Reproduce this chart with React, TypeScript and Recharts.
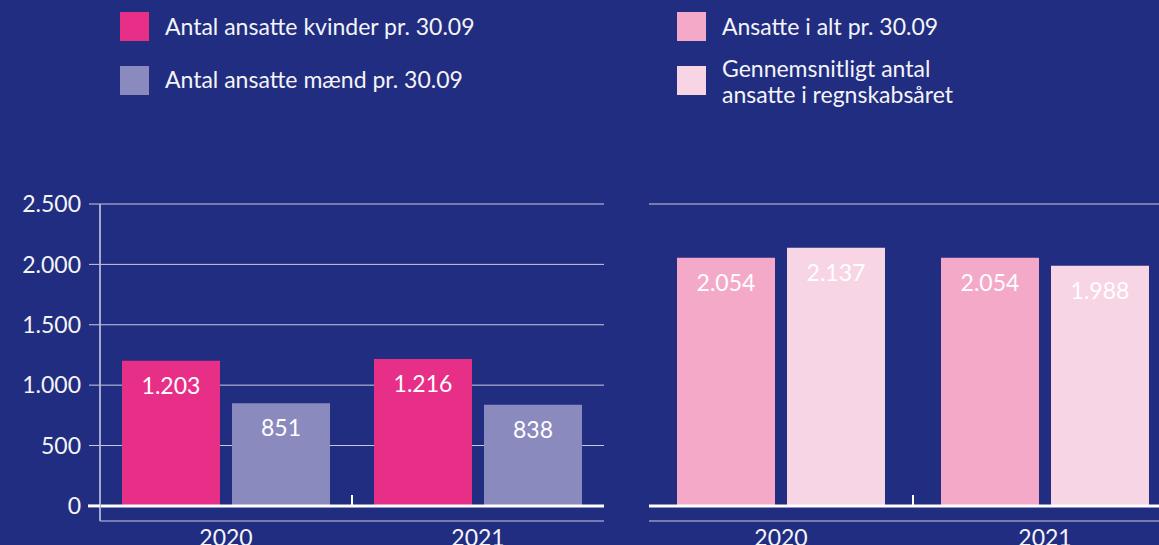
import React from 'react';
import * as Recharts from 'recharts';
import { BarChart, Bar, XAxis, YAxis, CartesianGrid, ReferenceLine, LabelList } from 'recharts';

const years = ['2020', '2021'];
const womenCount = [1203, 1216];
const menCount = [851, 838];
const totalCount = [2054, 2054];
const averageCount = [2137, 1988];
const yTicks = [0, 500, 1000, 1500, 2000, 2500];
const yDomain = [-125, 2500];

const legendLeft = ['Antal ansatte kvinder pr. 30.09', 'Antal ansatte mænd pr. 30.09'];
const legendRight = ['Ansatte i alt pr. 30.09', 'Gennemsnitligt antal\nansatte i regnskabsåret'];

const COLORS = {
  bg: '#212d80',
  women: '#e82f88',
  men: '#8b8abe',
  total: '#f4a9c9',
  avg: '#f8d5e5',
  grid: '#c9cbe3',
  axis: '#a6a8cd',
  text: '#f4f4f8',
};

const FONT = 'Lato, "Open Sans", sans-serif';
const FS = 23;
const Y_TICK_SIZE = 11;
const Y_TICK_MARGIN = 8;

const leftData = years.map((y, i) => ({ year: y, women: womenCount[i], men: menCount[i] }));
const rightData = years.map((y, i) => ({ year: y, total: totalCount[i], avg: averageCount[i] }));

const fmt = (v: any) => String(v).replace(/\B(?=(\d{3})+(?!\d))/g, '.');

const labelStyle = { fill: '#ffffff', fontSize: FS, fontFamily: FONT };

const usePlotAreaSafe: any = (Recharts as any).usePlotArea || (() => null);

// Small upward tick on the baseline between the two year groups
function SepTick() {
  const area = usePlotAreaSafe();
  if (!area) return null;
  const zeroY = area.y + (area.height * (yDomain[1] - 0)) / (yDomain[1] - yDomain[0]);
  const cx = area.x + area.width / 2;
  return <line x1={cx} x2={cx} y1={zeroY} y2={zeroY - 11} stroke="#ffffff" strokeWidth={2} />;
}

function YTick(props: any) {
  const { x, y, payload } = props;
  const isZero = Number(payload.value) === 0;
  return (
    <g>
      {isZero && (
        <line
          x1={x + Y_TICK_MARGIN - 1}
          x2={x + Y_TICK_MARGIN + Y_TICK_SIZE}
          y1={y}
          y2={y}
          stroke="#ffffff"
          strokeWidth={3}
        />
      )}
      <text x={x} y={y} dy="0.355em" textAnchor="end" fill={COLORS.text} fontSize={FS} fontFamily={FONT}>
        {fmt(payload.value)}
      </text>
    </g>
  );
}

function LegendItem({ color, text, x, y, textTop }: { color: string; text: string; x: number; y: number; textTop: number }) {
  return (
    <>
      <div style={{ position: 'absolute', left: x, top: y, width: 29, height: 29, background: color }} />
      <div
        style={{
          position: 'absolute',
          left: x + 45,
          top: textTop,
          fontFamily: FONT,
          fontSize: FS,
          lineHeight: '26px',
          color: COLORS.text,
          whiteSpace: 'pre',
        }}
      >
        {text}
      </div>
    </>
  );
}

export default function App() {
  return (
    <div
      style={{
        position: 'absolute',
        left: 0,
        top: 0,
        width: 1159,
        height: 545,
        overflow: 'hidden',
        background: COLORS.bg,
      }}
    >
      <LegendItem color={COLORS.women} text={legendLeft[0]} x={120} y={12} textTop={13} />
      <LegendItem color={COLORS.men} text={legendLeft[1]} x={120} y={66} textTop={66} />
      <LegendItem color={COLORS.total} text={legendRight[0]} x={677} y={12} textTop={13} />
      <LegendItem color={COLORS.avg} text={legendRight[1]} x={677} y={66} textTop={55} />

      <div style={{ position: 'absolute', left: 0, top: 0 }}>
        <BarChart
          width={620}
          height={545}
          data={leftData}
          margin={{ top: 204, right: 16, left: 0, bottom: 0 }}
          barSize={98}
          barGap={12}
        >
          <CartesianGrid vertical={false} stroke={COLORS.grid} strokeWidth={1} />
          <XAxis
            dataKey="year"
            height={24}
            axisLine={false}
            tickLine={false}
            tickSize={0}
            tickMargin={9}
            tick={{ fill: COLORS.text, fontSize: FS, fontFamily: FONT }}
          />
          <YAxis
            width={100}
            domain={yDomain}
            ticks={yTicks}
            allowDataOverflow
            axisLine={{ stroke: COLORS.axis, strokeWidth: 2 }}
            tickLine={{ stroke: COLORS.grid }}
            tickSize={Y_TICK_SIZE}
            tickMargin={Y_TICK_MARGIN}
            tick={<YTick />}
          />
          <Bar dataKey="women" fill={COLORS.women} isAnimationActive={false}>
            <LabelList dataKey="women" position="insideTop" offset={17} formatter={fmt} style={labelStyle} />
          </Bar>
          <Bar dataKey="men" fill={COLORS.men} isAnimationActive={false}>
            <LabelList dataKey="men" position="insideTop" offset={17} formatter={fmt} style={labelStyle} />
          </Bar>
          <ReferenceLine y={0} stroke="#ffffff" strokeWidth={3} />
          <SepTick />
        </BarChart>
      </div>

      <div style={{ position: 'absolute', left: 620, top: 0 }}>
        <BarChart
          width={560}
          height={545}
          data={rightData}
          margin={{ top: 204, right: 3, left: 29, bottom: 0 }}
          barSize={98}
          barGap={12}
        >
          <CartesianGrid vertical={false} stroke={COLORS.grid} strokeWidth={1} />
          <XAxis
            dataKey="year"
            height={24}
            axisLine={false}
            tickLine={false}
            tickSize={0}
            tickMargin={9}
            tick={{ fill: COLORS.text, fontSize: FS, fontFamily: FONT }}
          />
          <YAxis
            width={0}
            domain={yDomain}
            ticks={yTicks}
            allowDataOverflow
            axisLine={false}
            tickLine={false}
            tick={false}
          />
          <Bar dataKey="total" fill={COLORS.total} isAnimationActive={false}>
            <LabelList dataKey="total" position="insideTop" offset={17} formatter={fmt} style={labelStyle} />
          </Bar>
          <Bar dataKey="avg" fill={COLORS.avg} isAnimationActive={false}>
            <LabelList dataKey="avg" position="insideTop" offset={17} formatter={fmt} style={labelStyle} />
          </Bar>
          <ReferenceLine y={0} stroke="#ffffff" strokeWidth={3} />
          <SepTick />
        </BarChart>
      </div>
    </div>
  );
}
